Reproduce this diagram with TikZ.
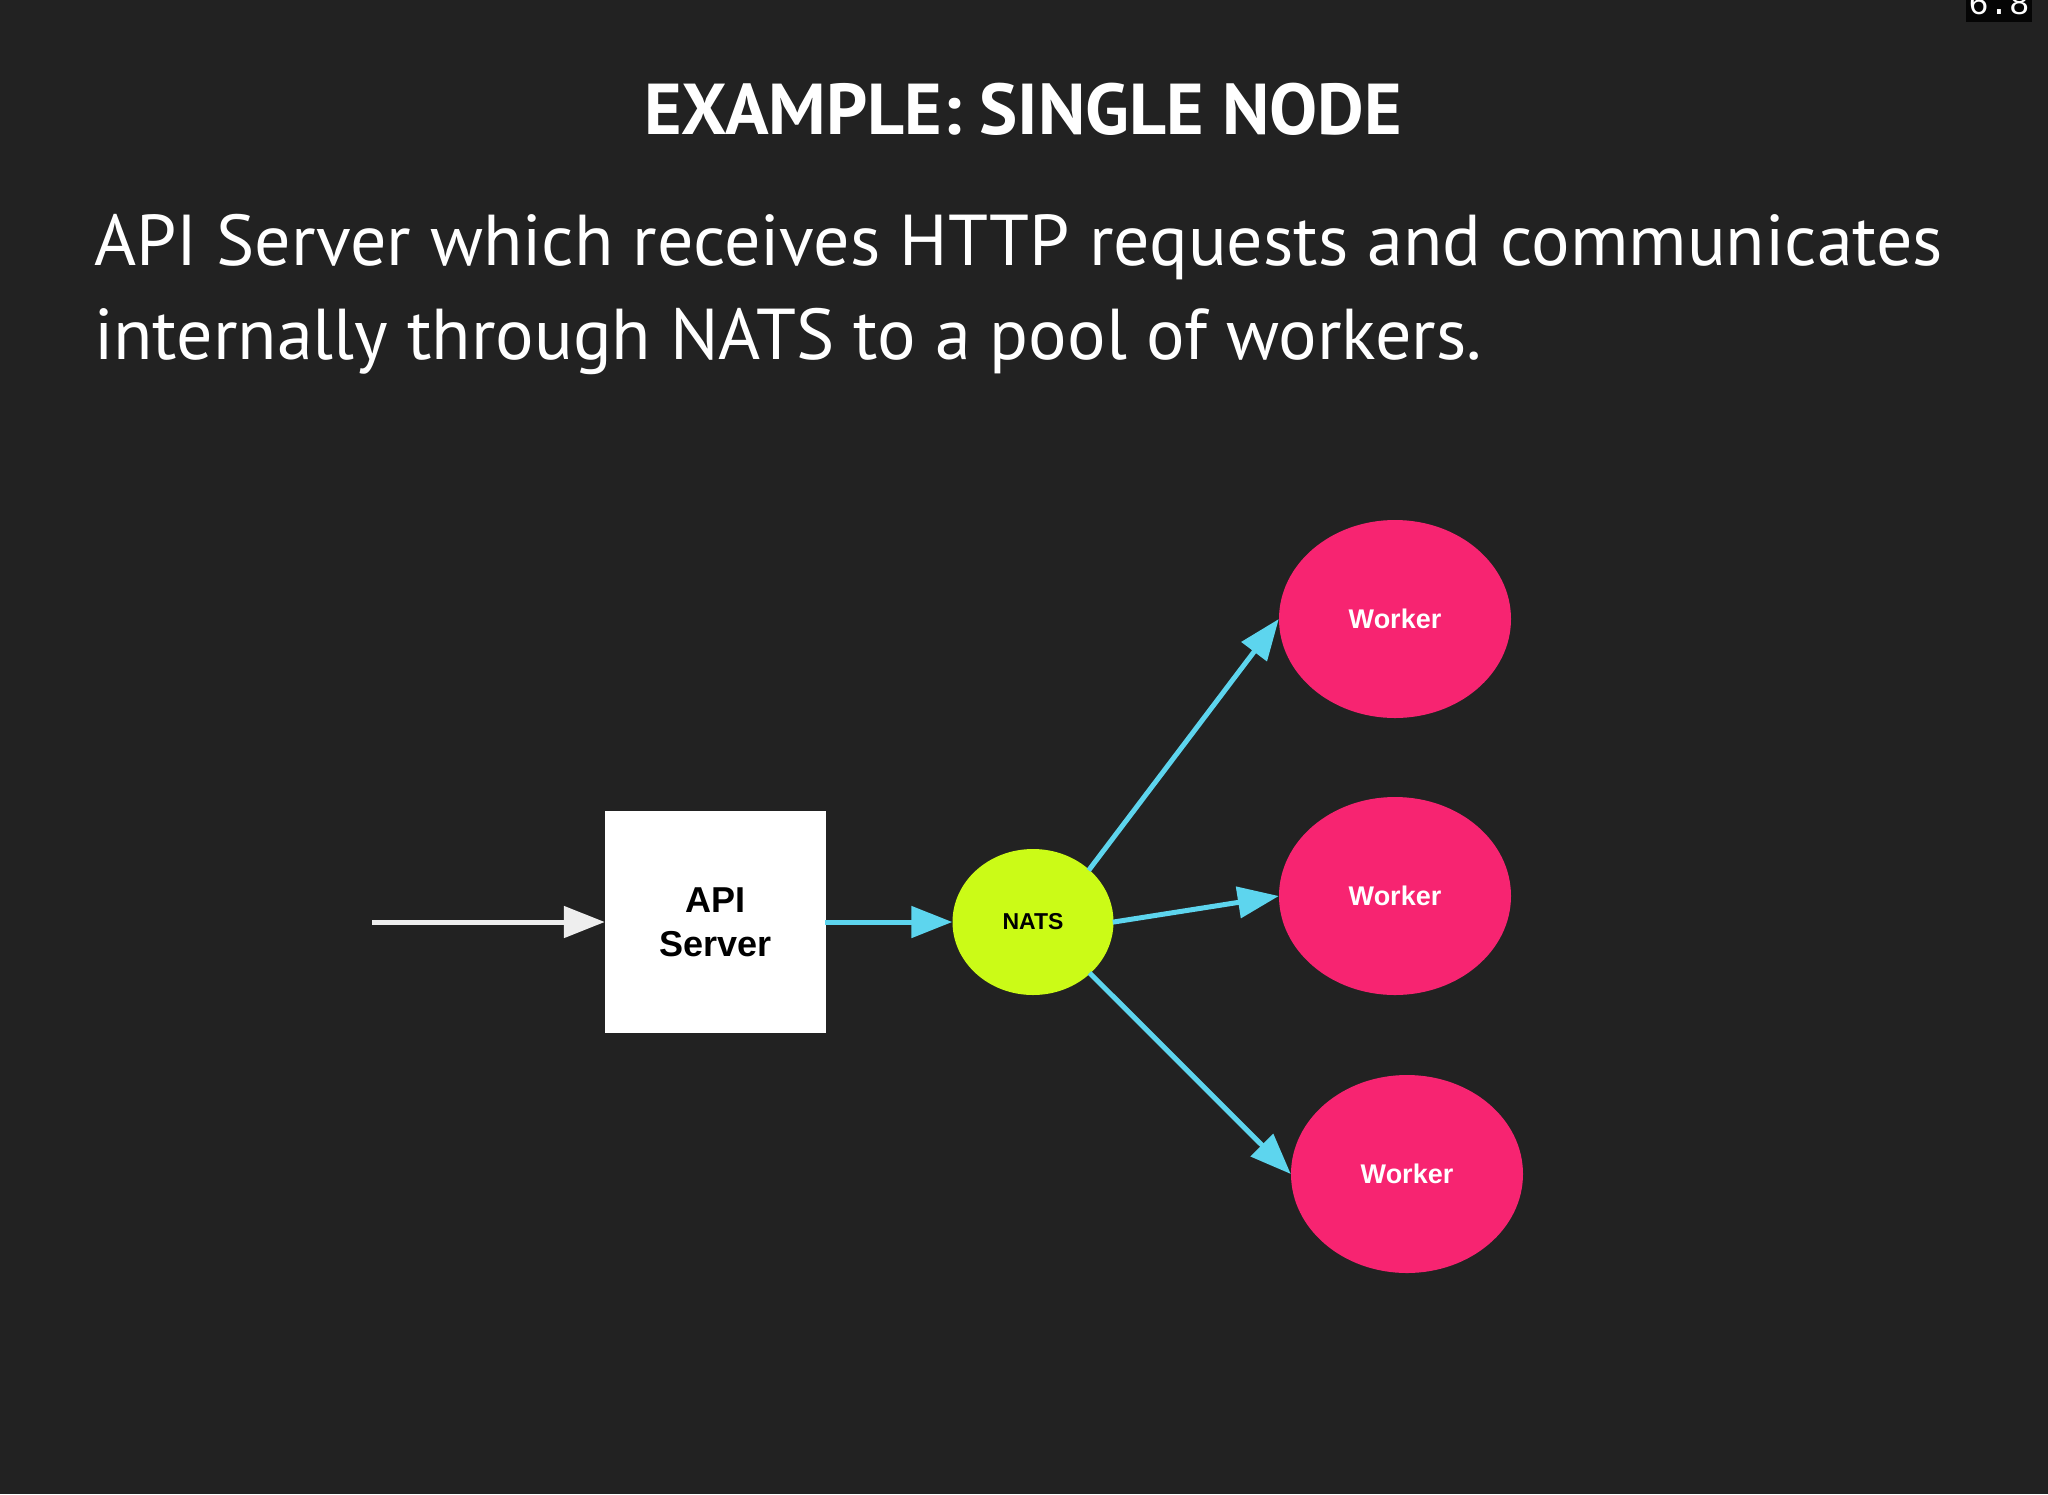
\documentclass[tikz,border=0pt]{standalone}
\usepackage{fontspec}
\setmainfont{PT Sans}
\newfontfamily\diagfont{Liberation Sans}
\newfontfamily\monofont{Liberation Mono}
\usetikzlibrary{shapes.geometric,arrows.meta}
\definecolor{bgc}{HTML}{222222}
\definecolor{pinkc}{HTML}{F72471}
\definecolor{limec}{HTML}{CBFB17}
\definecolor{bluec}{HTML}{5DD5EE}
\definecolor{whitec}{HTML}{EEEEEE}
\tikzset{
  worker/.style={ellipse, fill=pinkc, minimum width=232pt, minimum height=198pt, inner sep=0pt,
    text=white, font=\diagfont\bfseries\fontsize{27}{30}\selectfont},
  natsnode/.style={ellipse, fill=limec, minimum width=161pt, minimum height=146pt, inner sep=0pt,
    text=black, font=\diagfont\bfseries\fontsize{23}{26}\selectfont},
  apibox/.style={rectangle, fill=white, minimum width=221pt, minimum height=222pt, inner sep=0pt,
    text=black, align=center, font=\diagfont\bfseries\fontsize{36}{44}\selectfont},
  flow/.style={line width=5pt, bluec, -{Triangle[length=41pt,width=31pt]}, shorten <=-1pt},
  inflow/.style={line width=5pt, whitec, -{Triangle[length=41pt,width=31pt]}},
  bodytext/.style={inner sep=0pt, text=white, anchor=base west, font=\fontsize{72}{94}\selectfont},
}
\begin{document}
\begin{tikzpicture}[x=1pt,y=-1pt]
\fill[bgc] (0,0) rectangle (2048,1494);
\useasboundingbox (0,0) rectangle (2048,1494);
% overlay badge
\fill[black!85!bgc] (1966,0) rectangle (2032,22);
\begin{scope}
\clip (1966,0) rectangle (2032,22);
\node[inner sep=0pt, anchor=base, text=white, font=\monofont\fontsize{34}{34}\selectfont] (badge) at (1999,14) {6.8};
\end{scope}
% title and text
\node[inner sep=0pt, anchor=base, text=white, font=\bfseries\fontsize{72}{80}\selectfont] (title) at (1023,134) {EXAMPLE: SINGLE NODE};
\node[bodytext] (line1) at (94,265) {API Server which receives HTTP requests and communicates};
\node[bodytext] (line2) at (94,359) {internally through NATS to a pool of workers.};
% diagram
\coordinate (src) at (372,922);
\node[apibox] (api) at (715.5,922) {API\\Server};
\node[natsnode] (nats) at (1033,922) {NATS};
\node[worker] (w1) at (1395,619) {\raisebox{-3pt}{Worker}};
\node[worker] (w2) at (1395,896) {\raisebox{-2pt}{Worker}};
\node[worker] (w3) at (1407,1174) {\raisebox{-3pt}{Worker}};
\draw[inflow] (src) -- (api.west);
\draw[flow] (api.east) -- (nats.west);
\draw[flow] (nats.43) -- (w1.west);
\draw[flow] (nats.east) -- (w2.west);
\draw[flow] (nats.-42) -- (w3.west);
\end{tikzpicture}
\end{document}
